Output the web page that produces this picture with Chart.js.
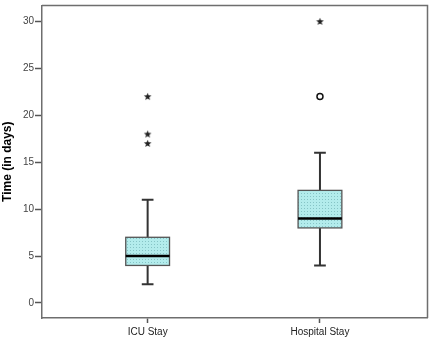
<!DOCTYPE html>
<html>
<head>
<meta charset="utf-8">
<script src="https://cdn.jsdelivr.net/npm/chart.js@4"></script>
<style>
  html, body { margin: 0; padding: 0; background: #fff; }
  #wrap { width: 433px; height: 339px; }
</style>
</head>
<body>
<div id="wrap"><canvas id="boxChart" width="433" height="339"></canvas></div>
<script>
// categories and box plot statistics
const categories = ["ICU Stay", "Hospital Stay"];
const whiskerLow = [2, 4];
const quartile1 = [4, 8];
const medians = [5, 9];
const quartile3 = [7, 12];
const whiskerHigh = [11, 16];
// outliers (circle) and extremes (star)
const outliersICU = [];
const outliersHospital = [22];
const extremesICU = [17, 18, 22];
const extremesHospital = [30];
const yTicks = [0, 5, 10, 15, 20, 25, 30];

const ctx = document.getElementById("boxChart").getContext("2d");

// dotted cyan fill like SPSS
function makePattern() {
  const p = document.createElement("canvas");
  p.width = 3; p.height = 3;
  const pc = p.getContext("2d");
  pc.fillStyle = "#b3ecec";
  pc.fillRect(0, 0, 3, 3);
  pc.fillStyle = "#86c4c6";
  pc.fillRect(1, 1, 1, 1);
  return ctx.createPattern(p, "repeat");
}

// small filled star for extreme values
function makeStar() {
  const s = document.createElement("canvas");
  s.width = 9; s.height = 9;
  const sc = s.getContext("2d");
  sc.fillStyle = "#222";
  sc.beginPath();
  for (let i = 0; i < 10; i++) {
    const r = i % 2 === 0 ? 4 : 1.7;
    const a = -Math.PI / 2 + i * Math.PI / 5;
    const x = 4.5 + r * Math.cos(a);
    const y = 4.7 + r * Math.sin(a);
    if (i === 0) sc.moveTo(x, y); else sc.lineTo(x, y);
  }
  sc.closePath();
  sc.fill();
  return s;
}

const boxFill = makePattern();
const starImg = makeStar();
const boxHalf = 0.127;
const capHalf = 0.034;

const boxPlugin = {
  id: "boxPlugin",
  beforeDatasetsDraw(chart) {
    const c = chart.ctx;
    const xs = chart.scales.x;
    const ys = chart.scales.y;
    c.save();
    categories.forEach((cat, i) => {
      const xv = i + 1;
      const xc = xs.getPixelForValue(xv);
      const xl = xs.getPixelForValue(xv - boxHalf);
      const xr = xs.getPixelForValue(xv + boxHalf);
      const cl = xs.getPixelForValue(xv - capHalf);
      const cr = xs.getPixelForValue(xv + capHalf);
      const yLo = ys.getPixelForValue(whiskerLow[i]);
      const yQ1 = ys.getPixelForValue(quartile1[i]);
      const yMed = ys.getPixelForValue(medians[i]);
      const yQ3 = ys.getPixelForValue(quartile3[i]);
      const yHi = ys.getPixelForValue(whiskerHigh[i]);

      c.strokeStyle = "#333";
      c.lineWidth = 2;
      c.beginPath();
      c.moveTo(xc, yQ3); c.lineTo(xc, yHi);
      c.moveTo(cl, yHi); c.lineTo(cr, yHi);
      c.moveTo(xc, yQ1); c.lineTo(xc, yLo);
      c.moveTo(cl, yLo); c.lineTo(cr, yLo);
      c.stroke();

      c.fillStyle = boxFill;
      c.fillRect(xl, yQ3, xr - xl, yQ1 - yQ3);
      c.strokeStyle = "#555";
      c.lineWidth = 1.3;
      c.strokeRect(xl, yQ3, xr - xl, yQ1 - yQ3);

      c.strokeStyle = "#000";
      c.lineWidth = 2.5;
      c.beginPath();
      c.moveTo(xl, yMed); c.lineTo(xr, yMed);
      c.stroke();
    });
    c.restore();
  },
  afterDraw(chart) {
    const a = chart.chartArea;
    const c = chart.ctx;
    c.save();
    c.strokeStyle = "#6e6e6e";
    c.lineWidth = 1.5;
    c.beginPath();
    c.moveTo(a.left, a.top); c.lineTo(a.right, a.top); c.lineTo(a.right, a.bottom);
    c.stroke();
    c.restore();
  }
};

const pts = (xv, arr) => arr.map(v => ({ x: xv, y: v }));

new Chart(ctx, {
  type: "scatter",
  data: {
    datasets: [
      {
        label: "extremes",
        data: pts(1, extremesICU).concat(pts(2, extremesHospital)),
        pointStyle: starImg,
        pointRadius: 4
      },
      {
        label: "outliers",
        data: pts(1, outliersICU).concat(pts(2, outliersHospital)),
        pointStyle: "circle",
        pointRadius: 3,
        borderColor: "#111",
        borderWidth: 1.5,
        backgroundColor: "#fff"
      }
    ]
  },
  options: {
    responsive: false,
    animation: false,
    layout: { padding: { top: 4, right: 4, left: 0, bottom: 0 } },
    plugins: {
      legend: { display: false },
      tooltip: { enabled: false }
    },
    scales: {
      x: {
        type: "linear",
        min: 0.387,
        max: 2.624,
        afterBuildTicks: (scale) => {
          scale.ticks = categories.map((c, i) => ({ value: i + 1 }));
        },
        afterFit: (scale) => { scale.height = 21; },
        ticks: {
          callback: (v) => categories[v - 1],
          color: "#222",
          font: { family: "Arial, 'Liberation Sans'", size: 10 },
          padding: 3,
          maxRotation: 0
        },
        grid: { drawOnChartArea: false, tickLength: 5, color: "#555", tickWidth: 1.5 },
        border: { display: true, color: "#6e6e6e", width: 1.5 }
      },
      y: {
        min: -1.6,
        max: 31.7,
        afterBuildTicks: (scale) => {
          scale.ticks = yTicks.map(v => ({ value: v }));
        },
        afterFit: (scale) => {
          scale.width = 42;
          scale.paddingTop = 0;
          scale.paddingBottom = 0;
        },
        ticks: {
          color: "#444",
          font: { family: "Arial, 'Liberation Sans'", size: 10 },
          padding: 1
        },
        grid: { drawOnChartArea: false, tickLength: 7, color: "#555", tickWidth: 1.5 },
        border: { display: true, color: "#6e6e6e", width: 1.5 },
        title: {
          display: true,
          text: "Time (in days)",
          color: "#000",
          font: { family: "Arial, 'Liberation Sans'", size: 12, weight: "bold" },
          padding: { top: 0, bottom: 0 }
        }
      }
    }
  },
  plugins: [boxPlugin]
});
</script>
</body>
</html>
